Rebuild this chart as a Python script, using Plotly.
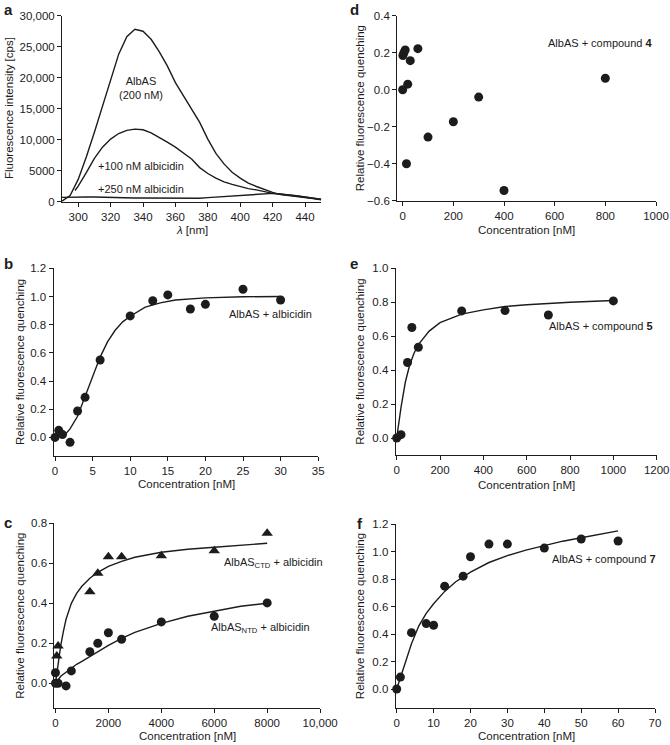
import plotly.graph_objects as go

W, H = 670, 745
INK = "#1c1c1c"
FONT = "Liberation Sans, Arial, Helvetica, sans-serif"

# ---------------- Panel a: emission spectra ----------------
wl = [290, 295, 300, 305, 310, 315, 320, 325, 330, 335, 340, 345, 350, 355, 360, 365,
      370, 375, 380, 385, 390, 395, 400, 405, 410, 415, 420, 425, 430, 435, 440, 445, 450]
spec_albas = [100, 1000, 3600, 7200, 11200, 15500, 19800, 23800, 26600, 27800, 27500, 26200,
              24200, 21900, 19200, 17000, 15000, 12800, 10100, 7800, 6100, 4750, 3800, 3000,
              2450, 1950, 1500, 1150, 950, 800, 650, 500, 300]
wl_100 = [298, 300, 305, 310, 315, 320, 325, 330, 335, 340, 345, 350, 355, 360, 365, 370,
          375, 380, 385, 390, 395, 400, 405, 410, 415, 420, 425, 430, 435, 440, 445, 450]
spec_100 = [1800, 2500, 4700, 7000, 8800, 10100, 11000, 11500, 11700, 11600, 11100, 10400,
            9600, 8800, 7900, 6900, 5500, 4550, 3800, 3200, 2800, 2400, 2100, 1900, 1600,
            1350, 1200, 1100, 950, 750, 550, 350]
spec_250 = [700, 750, 800, 750, 750, 700, 700, 650, 650, 600, 600, 600, 550, 550, 500, 500,
            500, 550, 650, 750, 850, 950, 1050, 1150, 1250, 1350, 1350, 1250, 1100, 950, 800,
            600, 400]
a_yticks = [0, 5000, 10000, 15000, 20000, 25000, 30000]
a_yticklabels = ["0", "5000", "10,000", "15,000", "20,000", "25,000", "30,000"]
a_xticks = [300, 320, 340, 360, 380, 400, 420, 440]

# ---------------- Panel b: AlbAS + albicidin ----------------
b_conc = [0, 0.5, 1, 2, 3, 4, 6, 10, 13, 15, 18, 20, 25, 30]
b_quench = [0.0, 0.05, 0.02, -0.035, 0.187, 0.284, 0.549, 0.862, 0.970, 1.011, 0.911, 0.944, 1.051, 0.975]
b_fit_x = [0, 1, 1.5, 2, 3, 4, 5, 6, 7, 8, 9, 10, 12, 14, 16, 20, 25, 30]
b_fit_y = [0.0, 0.015, 0.03, 0.06, 0.15, 0.29, 0.44, 0.57, 0.68, 0.76, 0.82, 0.86, 0.925, 0.955, 0.975, 0.99, 0.998, 1.0]

# ---------------- Panel c: CTD / NTD ----------------
ctd_conc = [50, 100, 1300, 1600, 2000, 2500, 4000, 6000, 8000]
ctd_quench = [0.137, 0.187, 0.458, 0.55, 0.633, 0.633, 0.638, 0.663, 0.75]
ctd_fit_x = [0, 50, 100, 200, 300, 400, 600, 800, 1000, 1300, 1600, 2000, 2500, 3000, 4000, 5000, 6000, 7000, 8000]
ctd_fit_y = [0.0, 0.05, 0.10, 0.19, 0.26, 0.32, 0.40, 0.45, 0.485, 0.525, 0.555, 0.585, 0.61, 0.63, 0.655, 0.67, 0.68, 0.69, 0.70]
ntd_conc = [0, 0, 100, 400, 600, 1300, 1600, 2000, 2500, 4000, 6000, 8000]
ntd_quench = [0.0, 0.053, 0.0, -0.013, 0.062, 0.158, 0.2, 0.253, 0.22, 0.307, 0.335, 0.402]
ntd_fit_x = [0, 100, 200, 400, 600, 800, 1000, 1300, 1600, 2000, 2500, 3000, 4000, 5000, 6000, 7000, 8000]
ntd_fit_y = [0.0, 0.02, 0.035, 0.055, 0.075, 0.095, 0.11, 0.135, 0.16, 0.19, 0.225, 0.255, 0.30, 0.335, 0.36, 0.385, 0.40]
c_xticks = [0, 2000, 4000, 6000, 8000, 10000]
c_xticklabels = ["0", "2000", "4000", "6000", "8000", "10,000"]

# ---------------- Panel d: compound 4 ----------------
d_conc = [0, 1, 5, 10, 15, 20, 30, 60, 100, 200, 300, 400, 800]
d_quench = [0.0, 0.185, 0.20, 0.215, -0.40, 0.03, 0.157, 0.222, -0.256, -0.173, -0.04, -0.545, 0.062]

# ---------------- Panel e: compound 5 ----------------
e_conc = [0, 20, 50, 70, 100, 300, 500, 700, 1000]
e_quench = [0.0, 0.02, 0.445, 0.651, 0.535, 0.749, 0.751, 0.725, 0.808]
e_fit_x = [0, 10, 20, 40, 60, 80, 100, 150, 200, 300, 400, 500, 600, 800, 1000]
e_fit_y = [0.0, 0.10, 0.18, 0.33, 0.43, 0.50, 0.55, 0.63, 0.68, 0.73, 0.755, 0.775, 0.785, 0.80, 0.81]

# ---------------- Panel f: compound 7 ----------------
f_conc = [0, 1, 4, 8, 10, 13, 18, 20, 25, 30, 40, 50, 60]
f_quench = [0.0, 0.087, 0.41, 0.476, 0.464, 0.748, 0.821, 0.962, 1.054, 1.054, 1.025, 1.091, 1.076]
f_fit_x = [0, 1, 2, 4, 6, 8, 10, 13, 16, 20, 25, 30, 35, 40, 45, 50, 55, 60]
f_fit_y = [0.0, 0.08, 0.17, 0.33, 0.46, 0.55, 0.62, 0.71, 0.78, 0.85, 0.92, 0.97, 1.01, 1.045, 1.075, 1.10, 1.125, 1.15]


def px_x(p):
    return p / W


def px_y(p):
    return 1 - p / H


def dom(x0, x1, ytop, ybot):
    return [px_x(x0), px_x(x1)], [px_y(ybot), px_y(ytop)]


panels = {
    # name: (x0, x1, ytop, ybot, xrange, yrange)  -- page pixels
    "a": (62, 321.2, 15.7, 201.7, [290, 450], [0, 30000]),
    "d": (397.1, 656, 15.7, 200.7, [-22, 1000], [-0.6, 0.4]),
    "b": (53.5, 318.2, 268.3, 455.7, [-0.2, 35], [-0.13, 1.2]),
    "e": (395.6, 656.7, 268.3, 455, [-5, 1200], [-0.1, 1.0]),
    "c": (54.4, 320.1, 523.3, 708.3, [-40, 10000], [-0.125, 0.8]),
    "f": (395.6, 655, 524, 708.3, [-0.3, 70], [-0.14, 1.2]),
}
order = ["a", "d", "b", "e", "c", "f"]
axid = {k: i + 1 for i, k in enumerate(order)}

fig = go.Figure()

line_style = dict(color=INK, width=1.4)
dot = dict(color=INK, size=9, symbol="circle")
tri = dict(color=INK, size=10, symbol="triangle-up")


def ax(k):
    i = axid[k]
    return ("x" if i == 1 else f"x{i}"), ("y" if i == 1 else f"y{i}")


def add(k, **kw):
    xa, ya = ax(k)
    fig.add_trace(go.Scatter(xaxis=xa, yaxis=ya, showlegend=False, hoverinfo="skip",
                             cliponaxis=False, **kw))


# a
add("a", x=wl, y=spec_albas, mode="lines", line=line_style)
add("a", x=wl_100, y=spec_100, mode="lines", line=line_style)
add("a", x=wl, y=spec_250, mode="lines", line=line_style)
# b
add("b", x=b_fit_x, y=b_fit_y, mode="lines", line=line_style)
add("b", x=b_conc, y=b_quench, mode="markers", marker=dot)
# c
add("c", x=ctd_fit_x, y=ctd_fit_y, mode="lines", line=line_style)
add("c", x=ntd_fit_x, y=ntd_fit_y, mode="lines", line=line_style)
add("c", x=ctd_conc, y=ctd_quench, mode="markers", marker=tri)
add("c", x=ntd_conc, y=ntd_quench, mode="markers", marker=dot)
# d
add("d", x=d_conc, y=d_quench, mode="markers", marker=dot)
# e
add("e", x=e_fit_x, y=e_fit_y, mode="lines", line=line_style)
add("e", x=e_conc, y=e_quench, mode="markers", marker=dot)
# f
add("f", x=f_fit_x, y=f_fit_y, mode="lines", line=line_style)
add("f", x=f_conc, y=f_quench, mode="markers", marker=dot)

tickfont = dict(family=FONT, size=11.5, color=INK)
base = dict(showline=True, linecolor=INK, linewidth=1, ticks="outside", ticklen=4,
            tickwidth=1, tickcolor=INK, showgrid=False, zeroline=False, tickfont=tickfont,
            fixedrange=True, automargin=False)

xticks = {
    "a": (a_xticks, [str(v) for v in a_xticks]),
    "b": ([0, 5, 10, 15, 20, 25, 30, 35], None),
    "c": (c_xticks, c_xticklabels),
    "d": ([0, 200, 400, 600, 800, 1000], None),
    "e": ([0, 200, 400, 600, 800, 1000, 1200], None),
    "f": ([0, 10, 20, 30, 40, 50, 60, 70], None),
}
yticks = {
    "a": (a_yticks, a_yticklabels),
    "b": ([0, 0.2, 0.4, 0.6, 0.8, 1.0, 1.2], None),
    "c": ([0, 0.2, 0.4, 0.6, 0.8], None),
    "d": ([-0.6, -0.4, -0.2, 0.0, 0.2, 0.4], None),
    "e": ([0, 0.2, 0.4, 0.6, 0.8, 1.0], None),
    "f": ([0, 0.2, 0.4, 0.6, 0.8, 1.0, 1.2], None),
}

layout = dict(template="none", width=W, height=H, margin=dict(l=0, r=0, t=0, b=0, pad=0),
              paper_bgcolor="white", plot_bgcolor="white",
              font=dict(family=FONT, size=11.5, color=INK))

for k in order:
    x0, x1, yt, yb, xr, yr = panels[k]
    dx, dy = dom(x0, x1, yt, yb)
    i = axid[k]
    xname = "xaxis" if i == 1 else f"xaxis{i}"
    yname = "yaxis" if i == 1 else f"yaxis{i}"
    xa, ya = ax(k)
    xv, xt = xticks[k]
    yv, yt_ = yticks[k]
    xd = dict(base, domain=dx, range=xr, anchor=ya, tickvals=xv)
    if xt:
        xd["ticktext"] = xt
    yd = dict(base, domain=dy, range=yr, anchor=xa, tickvals=yv)
    if yt_:
        yd["ticktext"] = yt_
    else:
        yd["tickformat"] = ".1f"
    layout[xname] = xd
    layout[yname] = yd

fig.update_layout(**layout)

ann = []


def note(text, xp, yp, size=11.5, angle=0, xanchor="center"):
    ann.append(dict(text=text, x=px_x(xp), y=px_y(yp), xref="paper", yref="paper",
                    showarrow=False, textangle=angle, xanchor=xanchor, yanchor="middle",
                    font=dict(family=FONT, size=size, color=INK)))


# panel letters
for letter, (lx, ly) in {"a": (8, 9), "b": (8, 263), "c": (8, 522),
                         "d": (354, 9), "e": (354, 263), "f": (360, 523)}.items():
    note(f"<b>{letter}</b>", lx, ly, size=15)

# axis titles
note("Fluorescence intensity [cps]", 9, 108, angle=-90)
note("<i>λ</i> [nm]", 192, 230)
for k, yx in {"b": 20, "c": 20, "d": 360, "e": 360, "f": 360}.items():
    x0, x1, yt, yb, _, _ = panels[k]
    note("Relative fluorescence quenching", yx, (yt + yb) / 2, angle=-90)
note("Concentration [nM]", 526.5, 230)
note("Concentration [nM]", 186, 483.5)
note("Concentration [nM]", 526, 485)
note("Concentration [nM]", 187, 736)
note("Concentration [nM]", 526, 736)

fig.update_layout(annotations=ann)


# in-plot labels (data coordinates)
def dnote(k, text, x, y, xanchor="center", xshift=0):
    xa, ya = ax(k)
    fig.add_annotation(text=text, x=x, y=y, xref=xa, yref=ya, showarrow=False,
                       xanchor=xanchor, yanchor="middle", xshift=xshift,
                       font=dict(family=FONT, size=11, color=INK))


dnote("a", "AlbAS<br>(200 nM)", 338.5, 18300)
dnote("a", "+100 nM albicidin", 339, 5800)
dnote("a", "+250 nM albicidin", 339, 2000)
dnote("b", "AlbAS + albicidin", 34.4, 0.873, xanchor="right")
dnote("c", "AlbAS<sub>CTD</sub> + albicidin", 10000, 0.60, xanchor="right", xshift=5)
dnote("c", "AlbAS<sub>NTD</sub> + albicidin", 9690, 0.275, xanchor="right")
dnote("d", "AlbAS + compound <b>4</b>", 996, 0.251, xanchor="right")
dnote("e", "AlbAS + compound <b>5</b>", 1192, 0.66, xanchor="right")
dnote("f", "AlbAS + compound <b>7</b>", 70, 0.945, xanchor="right", xshift=3)

fig.write_html(
    "out.html",
    config={"displayModeBar": False},
    post_script="document.documentElement.style.margin='0';document.body.style.margin='0';"
                "document.body.style.overflow='hidden';",
)
